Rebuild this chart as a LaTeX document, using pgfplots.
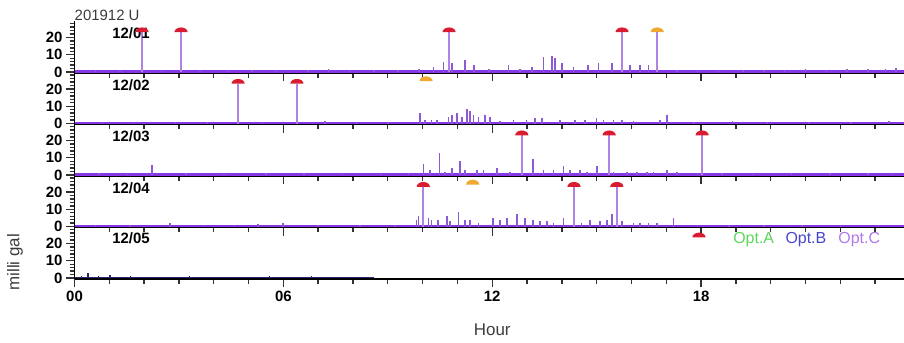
\documentclass[border=0pt]{standalone}
\usepackage{fontspec}
\setmainfont{Liberation Sans}
\usepackage{pgfplots}
\pgfplotsset{compat=1.18}

\definecolor{basecol}{RGB}{135,55,232}
\definecolor{spikecol}{RGB}{140,90,215}
\definecolor{stemcol}{RGB}{175,130,230}
\definecolor{markred}{RGB}{218,28,48}
\definecolor{markorange}{RGB}{240,168,48}
\definecolor{navy}{RGB}{40,40,110}
\definecolor{optA}{RGB}{90,215,90}
\definecolor{optB}{RGB}{70,70,205}
\definecolor{optC}{RGB}{175,120,235}
\definecolor{txtgray}{RGB}{60,60,60}
\definecolor{tickgray}{RGB}{50,50,50}

% half-ellipse marker, flat side at the data point
\pgfdeclareplotmark{dome}{%
  \pgfpathmoveto{\pgfqpoint{-1.1\pgfplotmarksize}{0pt}}%
  \pgfpatharc{180}{0}{1.1\pgfplotmarksize and 0.8\pgfplotmarksize}%
  \pgfpathclose
  \pgfusepathqfill}

\newcommand{\tickfont}{\fontsize{15}{15}\selectfont\bfseries}

\tikzset{
  daylabel/.style={anchor=west, inner sep=0pt, font=\tickfont},
  legtext/.style={anchor=west, inner sep=0pt, font=\fontsize{16}{16}\selectfont},
}

\pgfplotsset{
  panel/.style={
    scale only axis, width=835.2bp, height=51.5bp,
    xmin=0, xmax=24, ymin=-0.5, ymax=29.25,
    axis lines*=left,
    axis line style={black, line width=1.2bp},
    xtick={0,6,12,18}, minor xtick={1,2,3,4,5,7,8,9,10,11,13,14,15,16,17,19,20,21,22,23},
    ytick={0,10,20}, yticklabels={0,10,20},
    minor ytick={2,4,6,8,12,14,16,18,22,24,26,28},
    tick align=outside,
    major tick length=8.5bp, minor tick length=5bp,
    every tick/.style={tickgray, line width=1.4bp},
    ticklabel style={font=\tickfont},
    xticklabels={},
    clip=false,
  },
  baseln/.style={basecol, line width=2.8bp},
  spikes/.style={ycomb, spikecol, line width=1.6bp, mark=none},
  bigspikes/.style={ycomb, stemcol, line width=1.9bp, mark=none},
  redmark/.style={only marks, mark=dome, mark size=6bp, markred},
  orangemark/.style={only marks, mark=dome, mark size=6bp, markorange},
}

\begin{document}
\begin{tikzpicture}

% ---------------- 12/01 ----------------
\begin{axis}[panel, at={(0,0)}, anchor=south west]
  \addplot[baseln] coordinates {(0,0.3) (24,0.3)};
  \addplot[spikes] table {
x y
0.6 1.2
1.3 0.8
2.5 1.0
3.6 0.8
4.4 1.2
5.1 0.9
5.8 1.0
6.7 1.4
7.3 1.6
7.9 1.0
8.6 0.9
9.3 1.1
9.9 1.5
10.31 3
10.60 6
10.84 5
11.22 7
11.48 4
11.9 1.5
12.47 4
12.80 2
13.14 3
13.47 8.5
13.71 9
13.81 8
14.00 5
14.33 3
14.76 4
15.05 5
15.44 5
15.96 4
16.25 4
16.49 4
17.3 1.2
17.9 1.4
18.5 1.0
19.2 1.3
19.8 1.0
20.4 1.2
21.0 1.5
21.6 1.3
22.2 1.6
22.8 2.0
23.3 1.8
23.6 2.2
};
  \addplot[bigspikes] table {
x y
1.94 23
3.06 23
10.76 23
15.73 23
16.74 23
};
  \addplot[redmark] coordinates {(1.94,23) (3.06,23) (10.76,23) (15.73,23)};
  \addplot[orangemark] coordinates {(16.74,23)};
  \node[daylabel] at (axis cs:1.08,22.3) {12/01};
  \coordinate (bbL) at (axis cs:0,29.25);
\end{axis}

% ---------------- 12/02 ----------------
\begin{axis}[panel, at={(0,-51.5bp)}, anchor=south west]
  \addplot[baseln] coordinates {(0,0.3) (24,0.3)};
  \addplot[spikes] table {
x y
0.8 1.0
1.7 0.8
2.9 1.1
3.8 0.9
5.4 1.0
7.2 1.2
8.1 0.9
9.0 1.1
9.93 6
10.07 2
10.26 2
10.41 2
10.74 4
10.84 5
10.98 6
11.13 4
11.27 8.5
11.36 7
11.46 5
11.60 4
11.80 5
11.94 4
12.23 1.5
12.61 2
12.99 2
13.23 3
13.43 3
13.95 2
14.38 2
14.67 2
15.00 3
15.20 2
15.48 2
15.72 2
16.06 1.5
16.82 2
17.02 5
17.8 1.0
18.9 1.2
19.9 0.9
21.1 1.1
22.3 1.0
23.4 1.2
};
  \addplot[bigspikes] table {
x y
4.70 23
6.39 23
};
  \addplot[redmark] coordinates {(4.70,23) (6.39,23)};
  \addplot[orangemark] coordinates {(10.10,24.5)};
  \node[daylabel] at (axis cs:1.08,22.3) {12/02};
\end{axis}

% ---------------- 12/03 ----------------
\begin{axis}[panel, at={(0,-103bp)}, anchor=south west]
  \addplot[baseln] coordinates {(0,0.3) (24,0.3)};
  \addplot[spikes] table {
x y
0.7 1.0
1.5 0.9
2.23 6
3.2 1.0
4.3 0.9
5.5 1.1
6.6 1.0
7.7 1.2
8.8 0.9
9.6 1.1
10.02 6.5
10.22 3
10.48 13
10.65 2
10.84 4
11.08 8
11.22 3
11.56 3
11.75 3
12.13 4
12.51 2
13.18 9
13.47 3
13.76 3
14.05 5
14.24 3
14.53 3
14.72 2
15.01 5
15.48 2
15.87 2
16.16 2
16.44 2
16.63 2
17.02 3
17.30 2
17.9 1.0
18.6 1.1
19.5 0.9
20.6 1.0
21.7 1.1
22.8 1.0
23.5 1.2
};
  \addplot[bigspikes] table {
x y
12.85 23
15.36 23
18.03 23
};
  \addplot[redmark] coordinates {(12.85,23) (15.36,23) (18.03,23)};
  \node[daylabel] at (axis cs:1.08,22.3) {12/03};
\end{axis}

% ---------------- 12/04 ----------------
\begin{axis}[panel, at={(0,-154.5bp)}, anchor=south west]
  \addplot[baseln] coordinates {(0,0.3) (24,0.3)};
  \addplot[spikes] table {
x y
0.6 0.9
1.6 1.0
2.74 2
3.7 0.9
4.6 1.0
5.27 1.5
5.99 2
7.0 1.0
8.2 0.9
9.2 1.1
9.83 4
9.88 6
10.17 5
10.26 4
10.45 4
10.70 6
10.79 3
11.03 8.5
11.22 4
11.36 4
11.60 2
12.03 5
12.23 4
12.42 5
12.71 7
12.95 5
13.18 4
13.38 3
13.57 3
13.76 2
14.05 5
14.57 2
14.81 4
15.10 3
15.29 4
15.44 7
15.72 3
16.06 2
16.25 2
16.49 2
16.73 2
17.21 5
17.9 1.0
18.8 1.1
19.8 0.9
20.9 1.0
22.0 1.1
23.1 1.0
};
  \addplot[bigspikes] table {
x y
10.02 23
14.35 23
15.58 23
};
  \addplot[redmark] coordinates {(10.02,23) (14.35,23) (15.58,23)};
  \addplot[orangemark] coordinates {(11.44,24.3)};
  \node[daylabel] at (axis cs:1.08,22.3) {12/04};
\end{axis}

% ---------------- 12/05 ----------------
\begin{axis}[panel, at={(0,-206bp)}, anchor=south west,
    xticklabels={00,06,12,18}]
  \addplot[navy, line width=1.8bp] coordinates {(0,0.4) (8.6,0.4)};
  \addplot[ycomb, navy, line width=1.2bp] table {
x y
0.20 1.5
0.39 3
0.70 1.2
1.02 2
1.6 1.0
2.4 0.9
3.3 1.0
4.5 0.9
5.6 1.1
6.8 1.0
7.9 0.9
};
  \addplot[redmark] coordinates {(17.94,23.5)};
  \node[daylabel] at (axis cs:1.08,22.8) {12/05};
  \node[legtext, text=optA] at (axis cs:18.92,22) {Opt.A};
  \node[legtext, text=optB] at (axis cs:20.42,22) {Opt.B};
  \node[legtext, text=optC] at (axis cs:21.94,22) {Opt.C};
  \node[text=txtgray, font=\fontsize{17}{17}\selectfont] at ([yshift=-51bp]axis cs:12,-0.5) {Hour};
  \node[text=txtgray, rotate=90, font=\fontsize{17}{17}\selectfont] at ([xshift=-59.5bp]axis cs:0,9.2) {milli gal};
  \coordinate (bbR) at (axis cs:23.83,-0.5);
\end{axis}

\node[anchor=west, inner sep=0pt, text=txtgray, font=\fontsize{15}{15}\selectfont] at ([yshift=6.4bp]bbL) {201912 U};

\pgfresetboundingbox
\path[use as bounding box] ([xshift=-74.5bp,yshift=21.4bp]bbL) rectangle ([yshift=-63.1bp]bbR);
\end{tikzpicture}
\end{document}
